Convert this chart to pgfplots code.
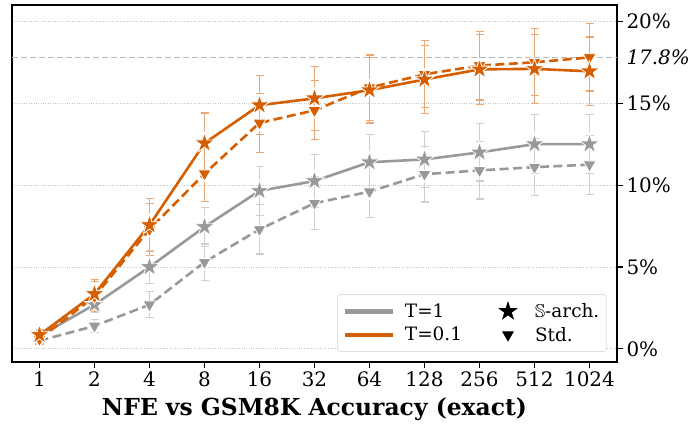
\documentclass[border=0pt]{standalone}
\usepackage{amssymb}
\usepackage{fontspec}
\setmainfont{DejaVu Serif}
\usepackage{pgfplots}
\usepackage{pgfplotstable}
\pgfplotsset{compat=1.18}
\definecolor{cg}{HTML}{999999}
\definecolor{co}{HTML}{D55E00}
\definecolor{cgl}{HTML}{CFCFCF}
\definecolor{col}{HTML}{EBA774}
\pgfdeclareplotmark{fstar}{%
  \pgfpathmoveto{\pgfqpointpolar{90}{\pgfplotmarksize}}%
  \pgfpathlineto{\pgfqpointpolar{126}{0.382\pgfplotmarksize}}%
  \pgfpathlineto{\pgfqpointpolar{162}{\pgfplotmarksize}}%
  \pgfpathlineto{\pgfqpointpolar{198}{0.382\pgfplotmarksize}}%
  \pgfpathlineto{\pgfqpointpolar{234}{\pgfplotmarksize}}%
  \pgfpathlineto{\pgfqpointpolar{270}{0.382\pgfplotmarksize}}%
  \pgfpathlineto{\pgfqpointpolar{306}{\pgfplotmarksize}}%
  \pgfpathlineto{\pgfqpointpolar{342}{0.382\pgfplotmarksize}}%
  \pgfpathlineto{\pgfqpointpolar{18}{\pgfplotmarksize}}%
  \pgfpathlineto{\pgfqpointpolar{54}{0.382\pgfplotmarksize}}%
  \pgfpathclose\pgfusepathqfillstroke}
\pgfplotstableread{
x y e
0 0.85 0.35
1 3.35 0.9
2 7.56 1.6
3 12.56 1.85
4 14.88 1.8
5 15.3 1.95
6 15.8 2.0
7 16.45 2.1
8 17.07 2.15
9 17.1 2.1
10 16.95 2.1
}\oS
\pgfplotstableread{
x y e
0 0.6 0.3
1 3.2 0.9
2 7.3 1.6
3 10.7 1.7
4 13.8 1.8
5 14.57 1.8
6 15.95 2.0
7 16.77 2.05
8 17.3 2.1
9 17.5 2.05
10 17.8 2.05
}\oD
\pgfplotstableread{
x y e
0 0.8 0.3
1 2.7 0.5
2 5.0 1.0
3 7.45 1.2
4 9.65 1.5
5 10.25 1.6
6 11.4 1.7
7 11.57 1.7
8 12.0 1.75
9 12.5 1.8
10 12.5 1.8
}\gS
\pgfplotstableread{
x y e
0 0.5 0.2
1 1.4 0.4
2 2.7 0.8
3 5.3 1.1
4 7.3 1.5
5 8.9 1.6
6 9.6 1.6
7 10.67 1.7
8 10.9 1.75
9 11.1 1.75
10 11.25 1.8
}\gD
\begin{document}
\begin{tikzpicture}
\useasboundingbox (-12bp,-68bp) rectangle (681bp,362bp);
\begin{axis}[
  scale only axis, width=605bp, height=357bp,
  xmin=-0.5, xmax=10.5, ymin=-0.8, ymax=21,
  xtick={0,...,10}, xticklabels={1,2,4,8,16,32,64,128,256,512,1024},
  ytick={0,5,10,15,20},
  yticklabel={\pgfmathprintnumber{\tick}\%},
  /pgf/number format/assume math mode=true,
  xtick pos=left, ytick pos=right, yticklabel pos=right,
  tick align=outside, major tick length=6bp,
  tick style={black, line width=1.2bp},
  axis line style={line width=2.2bp, black},
  ymajorgrids, grid style={dotted, gray!45, line width=0.8bp},
  extra y ticks={17.8}, extra y tick labels={\textit{17.8\%}},
  extra y tick style={tick style={draw=none}, grid=major,
     major grid style={dashed, gray!55, line width=0.9bp, dash pattern=on 6bp off 3bp}},
  tick label style={font=\fontsize{20}{22}\selectfont},
  xlabel={\bfseries NFE vs GSM8K Accuracy (exact)},
  xlabel style={font=\fontsize{23.5}{25}\selectfont, yshift=-4bp},
  legend columns=2,
  legend cell align=left,
  legend style={at={(0.983,0.028)}, anchor=south east, draw=gray!25,
    rounded corners=3bp, line width=0.8bp, fill=white,
    font=\fontsize{18.5}{20}\selectfont, inner xsep=5bp, inner ysep=7bp,
    row sep=4bp,
    /tikz/every odd column/.append style={column sep=8bp},
    /tikz/every even column/.append style={column sep=32bp}},
]
% error bars
\addplot[draw=none, mark=none, forget plot, error bars/.cd, y dir=both, y explicit,
  error bar style={draw=cgl, solid, line width=1.2bp},
  error mark options={draw=cgl, solid, line width=1.2bp, mark size=4bp, rotate=90}]
  table[x=x, y=y, y error=e] {\gD};
\addplot[draw=none, mark=none, forget plot, error bars/.cd, y dir=both, y explicit,
  error bar style={draw=cgl, solid, line width=1.2bp},
  error mark options={draw=cgl, solid, line width=1.2bp, mark size=4bp, rotate=90}]
  table[x=x, y=y, y error=e] {\gS};
\addplot[draw=none, mark=none, forget plot, error bars/.cd, y dir=both, y explicit,
  error bar style={draw=col, solid, line width=1.2bp},
  error mark options={draw=col, solid, line width=1.2bp, mark size=4bp, rotate=90}]
  table[x=x, y=y, y error=e] {\oD};
\addplot[draw=none, mark=none, forget plot, error bars/.cd, y dir=both, y explicit,
  error bar style={draw=col, solid, line width=1.2bp},
  error mark options={draw=col, solid, line width=1.2bp, mark size=4bp, rotate=90}]
  table[x=x, y=y, y error=e] {\oS};
% lines
\addplot[cg, line width=2.6bp, dash pattern=on 9bp off 4.5bp, forget plot, mark=triangle*, mark size=7.5bp,
  mark options={solid, rotate=180, fill=cg, draw=white, line width=0.8bp}]
  table[x=x, y=y] {\gD};
\addplot[cg, line width=2.6bp, forget plot, mark=fstar, mark size=10.5bp,
  mark options={solid, fill=cg, draw=white, line width=0.8bp}]
  table[x=x, y=y] {\gS};
\addplot[co, line width=2.6bp, dash pattern=on 9bp off 4.5bp, forget plot, mark=triangle*, mark size=7.5bp,
  mark options={solid, rotate=180, fill=co, draw=white, line width=0.8bp}]
  table[x=x, y=y] {\oD};
\addplot[co, line width=2.6bp, forget plot, mark=fstar, mark size=10.5bp,
  mark options={solid, fill=co, draw=white, line width=0.8bp}]
  table[x=x, y=y] {\oS};
% legend
\addlegendimage{legend image code/.code={\draw[cg, line width=4.5bp] (0bp,0bp) -- (48bp,0bp);}}
\addlegendentry{T=1}
\addlegendimage{legend image code/.code={\path[draw=none, fill=none] (0bp,0bp) -- (29bp,0bp); \draw[black, mark size=9bp, sharp corners] plot[mark=fstar] coordinates {(12bp,0bp)};}}
\addlegendentry{$\mathbb{S}$-arch.}
\addlegendimage{legend image code/.code={\draw[co, line width=4.5bp] (0bp,0bp) -- (48bp,0bp);}}
\addlegendentry{T=0.1}
\addlegendimage{legend image code/.code={\path[draw=none, fill=none] (0bp,0bp) -- (29bp,0bp); \draw[black, mark size=6bp, sharp corners] plot[mark=triangle*, mark options={rotate=180}] coordinates {(12bp,0bp)};}}
\addlegendentry{Std.}
\end{axis}
\end{tikzpicture}
\end{document}
